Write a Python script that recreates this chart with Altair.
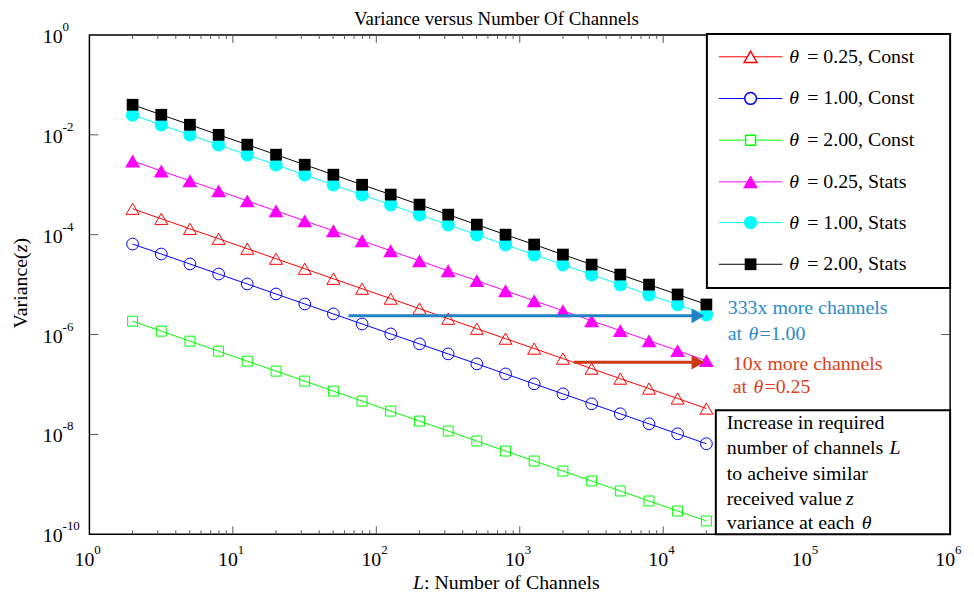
import altair as alt
import pandas as pd

# ---------------- data ----------------
L_vals = [2, 3.17, 5.02, 7.96, 12.6, 20, 31.7, 50.2, 79.6, 126, 200, 317, 502,
          796, 1260, 2000, 3170, 5020, 7960, 12600, 20000]

const_025 = [3.3e-4, 2.08e-4, 1.31e-4, 8.29e-5, 5.24e-5, 3.3e-5, 2.08e-5, 1.31e-5,
             8.29e-6, 5.24e-6, 3.3e-6, 2.08e-6, 1.31e-6, 8.29e-7, 5.24e-7, 3.3e-7,
             2.08e-7, 1.31e-7, 8.29e-8, 5.24e-8, 3.3e-8]
const_100 = [6.5e-5, 4.1e-5, 2.59e-5, 1.63e-5, 1.03e-5, 6.5e-6, 4.1e-6, 2.59e-6,
             1.63e-6, 1.03e-6, 6.5e-7, 4.1e-7, 2.59e-7, 1.63e-7, 1.03e-7, 6.5e-8,
             4.1e-8, 2.59e-8, 1.63e-8, 1.03e-8, 6.5e-9]
const_200 = [1.85e-6, 1.17e-6, 7.37e-7, 4.65e-7, 2.93e-7, 1.85e-7, 1.17e-7, 7.37e-8,
             4.65e-8, 2.93e-8, 1.85e-8, 1.17e-8, 7.37e-9, 4.65e-9, 2.93e-9, 1.85e-9,
             1.17e-9, 7.37e-10, 4.65e-10, 2.93e-10, 1.85e-10]
stats_025 = [3.0e-3, 1.89e-3, 1.2e-3, 7.54e-4, 4.76e-4, 3.0e-4, 1.89e-4, 1.2e-4,
             7.54e-5, 4.76e-5, 3.0e-5, 1.89e-5, 1.2e-5, 7.54e-6, 4.76e-6, 3.0e-6,
             1.89e-6, 1.2e-6, 7.54e-7, 4.76e-7, 3.0e-7]
stats_100 = [2.5e-2, 1.58e-2, 9.96e-3, 6.28e-3, 3.97e-3, 2.5e-3, 1.58e-3, 9.96e-4,
             6.28e-4, 3.97e-4, 2.5e-4, 1.58e-4, 9.96e-5, 6.28e-5, 3.97e-5, 2.5e-5,
             1.58e-5, 9.96e-6, 6.28e-6, 3.97e-6, 2.5e-6]
stats_200 = [4.0e-2, 2.52e-2, 1.59e-2, 1.0e-2, 6.35e-3, 4.0e-3, 2.52e-3, 1.59e-3,
             1.0e-3, 6.35e-4, 4.0e-4, 2.52e-4, 1.59e-4, 1.0e-4, 6.35e-5, 4.0e-5,
             2.52e-5, 1.59e-5, 1.0e-5, 6.35e-6, 4.0e-6]

series_values = [const_025, const_100, const_200, stats_025, stats_100, stats_200]
series_labels = ["= 0.25, Const", "= 1.00, Const", "= 2.00, Const",
                 "= 0.25, Stats", "= 1.00, Stats", "= 2.00, Stats"]
series_colors = ["#ff0000", "#0000ff", "#00ff00", "#ff00ff", "#00ffff", "#000000"]
series_shapes = ["triangle-up", "circle", "square", "triangle-up", "circle", "square"]
series_filled = [False, False, False, True, True, True]
series_sizes = [170, 140, 100, 225, 180, 140]

# arrows: (L start, L end of shaft, L of head, variance level)
arrow_blue = {"L0": 64, "L1": 17000, "Lh": 17470, "v": 2.37e-6}
arrow_red = {"L0": 2384, "L1": 17000, "Lh": 17470, "v": 2.79e-7}

x_grid = [k * 10 ** e for e in range(0, 6) for k in range(1, 10)][1:]
x_major = [10, 100, 1000, 10000, 100000]
y_major = [1e-2, 1e-4, 1e-6, 1e-8]
x_labels = [(1, "0"), (10, "1"), (100, "2"), (1000, "3"), (10000, "4"), (100000, "5"), (1000000, "6")]
y_labels = [(1, "0"), (1e-2, "-2"), (1e-4, "-4"), (1e-6, "-6"), (1e-8, "-8"), (1e-10, "-10")]

# ---------------- layout ----------------
W, H = 867, 503
FONT = "Liberation Serif"
xs = alt.Scale(type="log", domain=[1, 1e6], nice=False)
ys = alt.Scale(type="log", domain=[1e-10, 1], nice=False)

def X(field, **kw):
    return alt.X(field, type="quantitative", scale=xs, axis=None, **kw)

def Y(field, **kw):
    return alt.Y(field, type="quantitative", scale=ys, axis=None, **kw)

dummy = pd.DataFrame({"a": [0]})

def txt(text, x, y, size=20, color="black", align="left", italic=False, angle=None, baseline="middle"):
    kw = dict(text=text, fontSize=size, font=FONT, color=color, align=align, baseline=baseline)
    if italic:
        kw["fontStyle"] = "italic"
    if angle is not None:
        kw["angle"] = angle
    return alt.Chart(dummy).mark_text(**kw).encode(x=alt.value(x), y=alt.value(y))

layers = []

# base with grid
grid_df = pd.DataFrame({"L": [1, 1e6], "v": [1e-10, 1]})
base = alt.Chart(grid_df).mark_point(opacity=0).encode(
    x=alt.X("L:Q", scale=xs, axis=alt.Axis(values=x_grid, grid=True, labels=False, ticks=False,
                                          domain=False, title=None, gridDash=[1, 8], gridColor="#111",
                                          gridWidth=1)),
    y=alt.Y("v:Q", scale=ys, axis=alt.Axis(values=y_major, grid=True, labels=False, ticks=False,
                                          domain=False, title=None, gridDash=[1, 8], gridColor="#111",
                                          gridWidth=1)),
)
layers.append(base)

# inner ticks
tick_minor = pd.DataFrame({"L": [v for v in x_grid if v not in x_major]})
tick_major = pd.DataFrame({"L": x_major})
for df, ln in [(tick_minor, 4), (tick_major, 8)]:
    layers.append(alt.Chart(df).mark_rule(color="#555", strokeWidth=1).encode(
        x=X("L"), y=alt.value(H), y2=alt.value(H - ln)))
    layers.append(alt.Chart(df).mark_rule(color="#555", strokeWidth=1).encode(
        x=X("L"), y=alt.value(0), y2=alt.value(ln)))
ytick_df = pd.DataFrame({"v": y_major})
layers.append(alt.Chart(ytick_df).mark_rule(color="#555", strokeWidth=1).encode(
    y=Y("v"), x=alt.value(0), x2=alt.value(9)))
layers.append(alt.Chart(ytick_df).mark_rule(color="#555", strokeWidth=1).encode(
    y=Y("v"), x=alt.value(W - 9), x2=alt.value(W)))

# series
for vals, col, shp, fil, sz in zip(series_values, series_colors, series_shapes,
                                   series_filled, series_sizes):
    df = pd.DataFrame({"L": L_vals, "v": vals})
    layers.append(alt.Chart(df).mark_line(color=col, strokeWidth=1).encode(x=X("L"), y=Y("v")))
    if fil:
        pm = alt.Chart(df).mark_point(shape=shp, size=sz, filled=True, color=col, opacity=1)
    else:
        pm = alt.Chart(df).mark_point(shape=shp, size=sz, filled=False, color=col, opacity=1,
                                      strokeWidth=1)
    layers.append(pm.encode(x=X("L"), y=Y("v")))

# arrows
for arr, col in [(arrow_blue, "#1f83c4"), (arrow_red, "#cc3810")]:
    adf = pd.DataFrame({"L": [arr["L0"]], "L2": [arr["L1"]], "v": [arr["v"]]})
    layers.append(alt.Chart(adf).mark_rule(color=col, strokeWidth=3).encode(
        x=X("L"), x2=alt.X2("L2"), y=Y("v")))
    hdf = pd.DataFrame({"L": [arr["Lh"]], "v": [arr["v"]]})
    layers.append(alt.Chart(hdf).mark_point(shape="triangle-right", size=220, filled=True,
                                            color=col, opacity=1).encode(x=X("L"), y=Y("v")))

# tick labels
xl = pd.DataFrame({"L": [a for a, _ in x_labels], "e": [b for _, b in x_labels]})
layers.append(alt.Chart(xl).mark_text(text="10", font=FONT, fontSize=20, align="right",
                                      baseline="middle", dx=5).encode(x=X("L"), y=alt.value(529)))
layers.append(alt.Chart(xl).mark_text(font=FONT, fontSize=13, align="left",
                                      baseline="middle", dx=5).encode(x=X("L"), y=alt.value(519),
                                                                      text="e:N"))
yl = pd.DataFrame({"v": [a for a, _ in y_labels], "e": [b for _, b in y_labels]})
layers.append(alt.Chart(yl).mark_text(text="10", font=FONT, fontSize=20, align="right",
                                      baseline="middle", dy=2).encode(y=Y("v"), x=alt.value(-27)))
layers.append(alt.Chart(yl).mark_text(font=FONT, fontSize=13, align="left",
                                      baseline="middle", dy=-8).encode(y=Y("v"), x=alt.value(-27),
                                                                       text="e:N"))

# titles
layers.append(txt("Variance versus Number Of Channels", 410, -16, size=19, align="center"))
layers.append(txt("L", 337, 552, size=20, align="right", italic=True))
layers.append(txt(": Number of Channels", 337, 552, size=20, align="left"))
layers.append(txt("Variance(", -69, 219, size=20, align="right", angle=270))
layers.append(txt("z", -69, 219, size=20, align="left", angle=270, italic=True))
layers.append(txt(")", -69, 211, size=20, align="left", angle=270))

# legend
layers.append(alt.Chart(dummy).mark_rect(fill="white", stroke="black", strokeWidth=2).encode(
    x=alt.value(622), x2=alt.value(W), y=alt.value(-1), y2=alt.value(255)))
row_y = [22, 64, 106, 148, 189, 231]
for ry, lab, col, shp, fil, sz in zip(row_y, series_labels, series_colors, series_shapes,
                                      series_filled, series_sizes):
    layers.append(alt.Chart(dummy).mark_rule(color=col, strokeWidth=1).encode(
        x=alt.value(634), x2=alt.value(698), y=alt.value(ry)))
    if fil:
        pm = alt.Chart(dummy).mark_point(shape=shp, size=sz, filled=True, color=col, opacity=1)
    else:
        pm = alt.Chart(dummy).mark_point(shape=shp, size=sz, filled=False, color=col, opacity=1,
                                         strokeWidth=1.5, fill="white")
    layers.append(pm.encode(x=alt.value(666), y=alt.value(ry)))
    layers.append(txt("θ", 705, ry, size=20, italic=True))
    layers.append(txt(lab, 723, ry, size=20))

# annotations
blue_txt = "#2a8ad0"
red_txt = "#dc3f16"
layers.append(txt("333x more channels", 643, 275, size=20, color=blue_txt))
layers.append(txt("at", 643, 301, size=20, color=blue_txt))
layers.append(txt("θ", 664, 301, size=20, color=blue_txt, italic=True))
layers.append(txt("=1.00", 675, 301, size=20, color=blue_txt))
layers.append(txt("10x more channels", 648, 331, size=20, color=red_txt))
layers.append(txt("at", 648, 355, size=20, color=red_txt))
layers.append(txt("θ", 669, 355, size=20, color=red_txt, italic=True))
layers.append(txt("=0.25", 680, 355, size=20, color=red_txt))

# explanation box
layers.append(alt.Chart(dummy).mark_rect(fill="white", stroke="black", strokeWidth=2).encode(
    x=alt.value(631), x2=alt.value(W), y=alt.value(378), y2=alt.value(H)))
box_lines = ["Increase in required", "number of channels", "to acheive similar",
             "received value", "variance at each"]
box_italic = ["", "L", "", "z", "θ"]
box_italic_x = [0, 806, 0, 762, 778]
box_y = [391, 416, 442, 467, 492]
for ln, it, ix, by in zip(box_lines, box_italic, box_italic_x, box_y):
    layers.append(txt(ln, 642, by, size=20))
    if it:
        layers.append(txt(it, ix, by, size=20, italic=True))

chart = alt.layer(*layers).properties(
    width=W, height=H,
    autosize=alt.AutoSizeParams(type="none"),
    padding={"left": 82, "top": 25, "right": 16, "bottom": 60},
).configure_view(stroke="black", strokeWidth=1.5)

chart.save("out.html", embed_options={"renderer": "svg", "actions": False})
